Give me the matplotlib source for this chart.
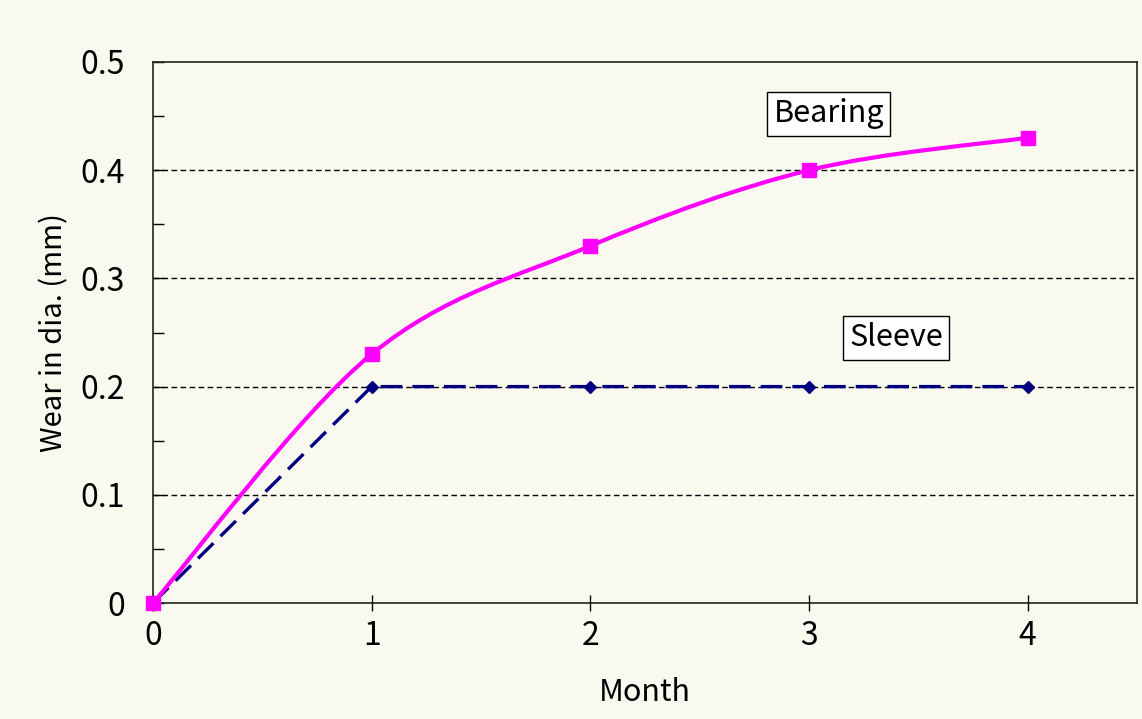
import matplotlib.pyplot as plt
from matplotlib.path import Path
from matplotlib.patches import PathPatch

plt.rcParams['font.family'] = ['Noto Sans CJK JP', 'DejaVu Sans']

months = [0, 1, 2, 3, 4]
bearing = [0, 0.23, 0.33, 0.40, 0.43]
sleeve = [0, 0.2, 0.2, 0.2, 0.2]
yticks = [0, 0.1, 0.2, 0.3, 0.4, 0.5]
ytick_labels = ['0', '0.1', '0.2', '0.3', '0.4', '0.5']
yminor = [0.05, 0.15, 0.25, 0.35, 0.45]

bg = '#f9f9f0'
fig = plt.figure(figsize=(11.42, 7.19), dpi=100, facecolor=bg)
ax = fig.add_axes([153/1142, 1-603/719, 984/1142, 541/719])
ax.set_facecolor(bg)

# smoothed line for bearing (Excel style bezier through the points)
verts = [(months[0], bearing[0])]
codes = [Path.MOVETO]
n = len(months)
for i in range(n - 1):
    p0 = (months[max(i-1, 0)], bearing[max(i-1, 0)])
    p1 = (months[i], bearing[i])
    p2 = (months[i+1], bearing[i+1])
    p3 = (months[min(i+2, n-1)], bearing[min(i+2, n-1)])
    c1 = (p1[0] + (p2[0]-p0[0])/6, p1[1] + (p2[1]-p0[1])/6)
    c2 = (p2[0] - (p3[0]-p1[0])/6, p2[1] - (p3[1]-p1[1])/6)
    verts += [c1, c2, p2]
    codes += [Path.CURVE4]*3
ax.add_patch(PathPatch(Path(verts, codes), fill=False, edgecolor='#ff00ff',
                       lw=3, zorder=3, capstyle='round'))
ax.plot(months, bearing, ls='none', marker='s', ms=9.5, color='#ff00ff',
        zorder=4, clip_on=False)

ax.plot(months, sleeve, color='#000080', lw=2.4, dashes=(6.5, 3),
        marker='D', ms=6, zorder=2, clip_on=False)

ax.set_xlim(0, 4.5)
ax.set_ylim(0, 0.5)
ax.set_xticks(months)
ax.set_yticks(yticks, ytick_labels)
ax.set_yticks(yminor, minor=True)
ax.tick_params(axis='x', direction='inout', length=12, width=1, labelsize=23, pad=6)
ax.tick_params(axis='y', which='major', direction='in', length=8, width=1, labelsize=23, pad=20)
ax.tick_params(axis='y', which='minor', direction='in', length=8, width=1)
for s in ax.spines.values():
    s.set_linewidth(1.2)
    s.set_color('#222222')

for y in yticks[1:-1]:
    ax.axhline(y, color='black', lw=1, dashes=(4, 2.5), zorder=1)

ax.set_xlabel('Month', fontsize=22, labelpad=18)
ax.set_ylabel('Wear in dia. (mm)', fontsize=21, labelpad=8)

box = dict(boxstyle='square,pad=0.2', facecolor='white', edgecolor='black', lw=1)
ax.text(3.09, 0.452, 'Bearing', fontsize=22, ha='center', va='center', bbox=box)
ax.text(3.40, 0.245, 'Sleeve', fontsize=22, ha='center', va='center', bbox=box)

fig.savefig('out.png', dpi=100, facecolor=bg)
